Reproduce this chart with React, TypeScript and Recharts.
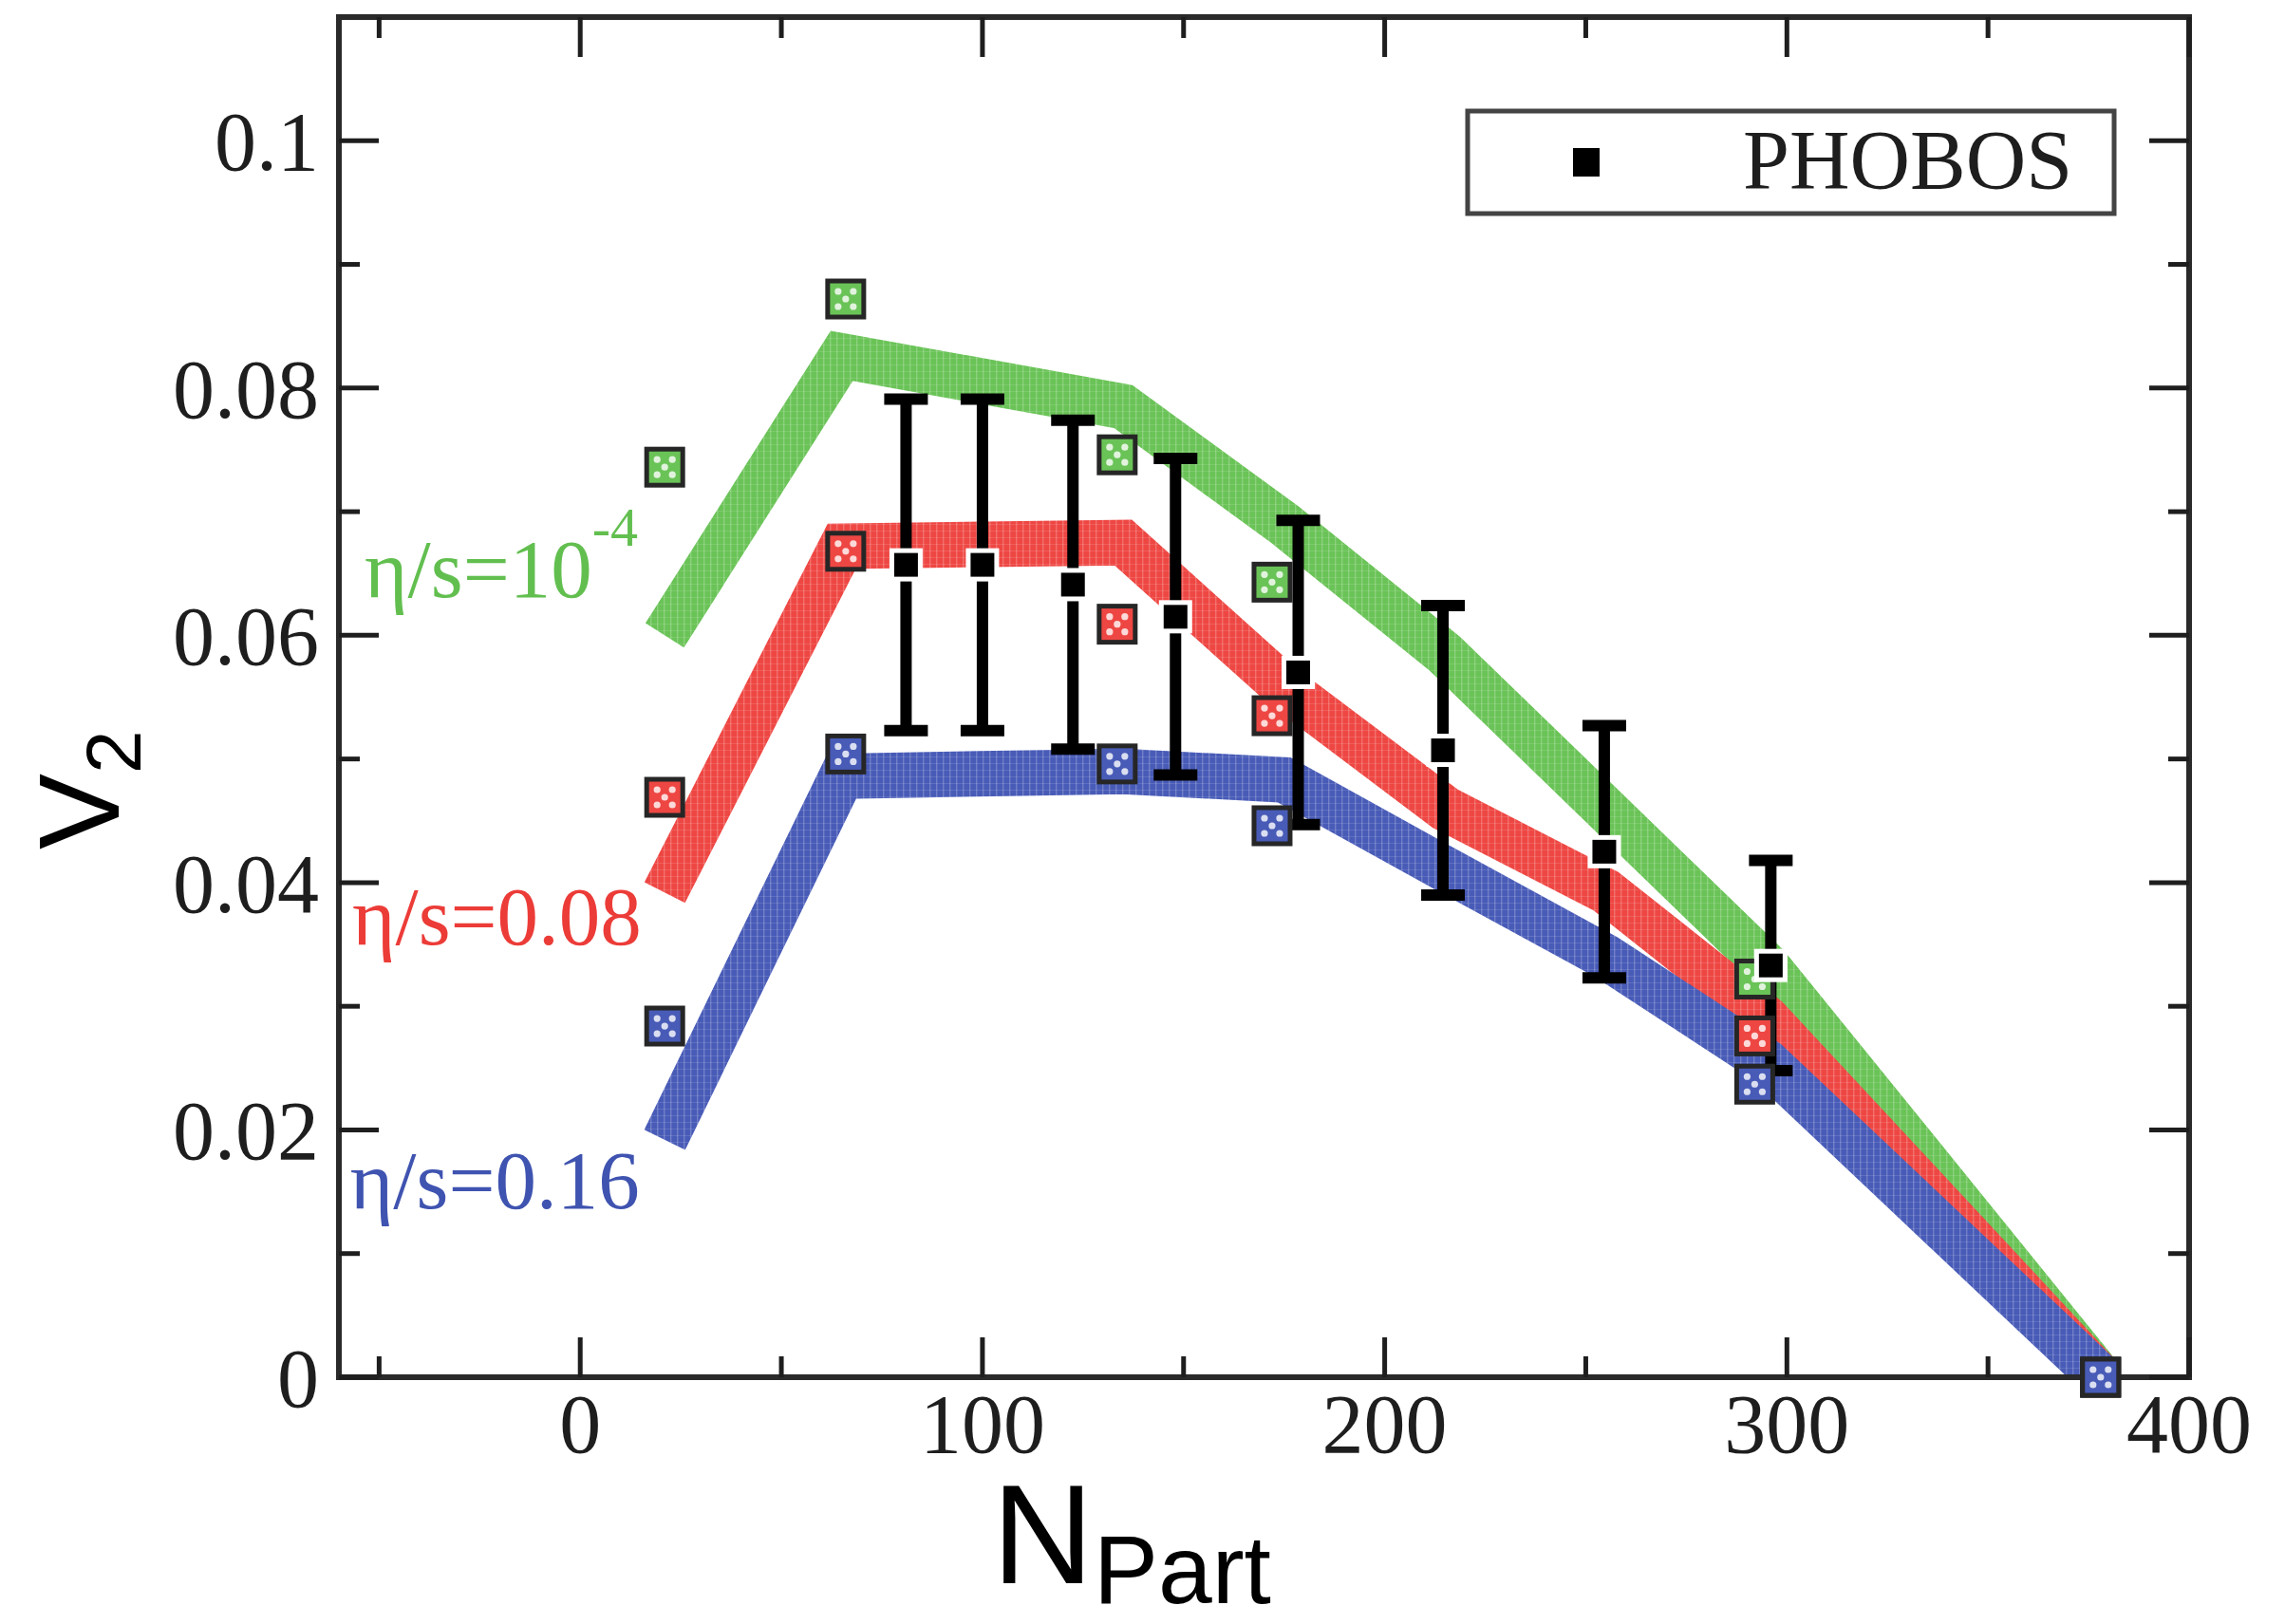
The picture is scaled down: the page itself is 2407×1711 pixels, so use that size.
import React from 'react';
import { ComposedChart, Line, Scatter, XAxis, YAxis, ErrorBar } from 'recharts';

const CHART_W = 2391;
const CHART_H = 1703;

// Hydro bands (centre lines): N_part vertices and v2 values
const bandNpart = [21, 65, 135, 175, 215, 255, 295, 378];
const bandEta1e4 = [0.06, 0.0826, 0.0785, 0.069, 0.0585, 0.0459, 0.0333, 0];
const bandEta008 = [0.0392, 0.0672, 0.0675, 0.0558, 0.046, 0.0393, 0.029, 0];
const bandEta016 = [0.0192, 0.0486, 0.049, 0.0483, 0.0411, 0.034, 0.0255, 0];

// Model points (squares)
const modelNpart = [21, 66, 133.5, 172, 292, 378];
const modelEta1e4 = [0.0736, 0.0872, 0.0746, 0.0643, 0.0322, 0];
const modelEta008 = [0.0469, 0.0668, 0.0609, 0.0535, 0.0276, 0];
const modelEta016 = [0.0284, 0.0504, 0.0496, 0.0446, 0.0237, 0];

// PHOBOS data
const phobosNpart = [81, 100, 122.5, 148, 178.5, 214.5, 254.6, 296];
const phobosV2 = [0.0657, 0.0657, 0.0641, 0.0615, 0.057, 0.0507, 0.0425, 0.0333];
const phobosErr = [0.0134, 0.0134, 0.0133, 0.0128, 0.0123, 0.0117, 0.0102, 0.0085];

// Axis ticks
const xTicks = [-50, 0, 50, 100, 150, 200, 250, 300, 350, 400];
const yTicks = [0, 0.01, 0.02, 0.03, 0.04, 0.05, 0.06, 0.07, 0.08, 0.09, 0.1];

// Curve labels (anchor = start of text baseline, in data coords)
const labelGreen = [{ x: -53.6, y: 0.0631 }];
const labelRed = [{ x: -56.7, y: 0.035 }];
const labelBlue = [{ x: -57.2, y: 0.01365 }];

const GREEN = '#6ac357';
const RED = '#ee4743';
const BLUE = '#485bb7';
const GREEN_TXT = '#62bf4f';
const RED_TXT = '#ec3c38';
const BLUE_TXT = '#3f53b0';

const SERIF = '"Liberation Serif", "Times New Roman", serif';
const SANS = '"Liberation Sans", Arial, sans-serif';
const INK = '#1e1e1e';

const pts = (xs: number[], ys: number[]) => xs.map((x, i) => ({ x, y: ys[i] }));
const phobosData = phobosNpart.map((x, i) => ({ x, y: phobosV2[i], err: phobosErr[i] }));

const isMajorX = (v: number) => Math.round(v) % 100 === 0;
const isMajorY = (v: number) => Math.round(v * 100) % 2 === 0;
const MAJ = 42;
const MIN = 22;
const TICK_W = 5;

const BottomTick = (p: any) => {
  const { x, y, payload } = p;
  const v = payload.value;
  const major = isMajorX(v);
  return (
    <g>
      <line x1={x} y1={y} x2={x} y2={y - (major ? MAJ : MIN)} stroke={INK} strokeWidth={TICK_W} />
      {major && (
        <text x={x} y={y + 79} textAnchor="middle" fontSize={88} fontFamily={SERIF} fill={INK}>
          {String(v)}
        </text>
      )}
    </g>
  );
};

const TopTick = (p: any) => {
  const { x, y, payload } = p;
  const major = isMajorX(payload.value);
  return <line x1={x} y1={y} x2={x} y2={y + (major ? MAJ : MIN)} stroke={INK} strokeWidth={TICK_W} />;
};

const LeftTick = (p: any) => {
  const { x, y, payload } = p;
  const v = payload.value;
  const major = isMajorY(v);
  return (
    <g>
      <line x1={x} y1={y} x2={x + (major ? MAJ : MIN)} y2={y} stroke={INK} strokeWidth={TICK_W} />
      {major && (
        <text x={x - 21} y={y + 31} textAnchor="end" fontSize={88} fontFamily={SERIF} fill={INK}>
          {v === 0 ? '0' : String(v)}
        </text>
      )}
    </g>
  );
};

const RightTick = (p: any) => {
  const { x, y, payload } = p;
  const major = isMajorY(payload.value);
  return <line x1={x} y1={y} x2={x - (major ? MAJ : MIN)} y2={y} stroke={INK} strokeWidth={TICK_W} />;
};

const modelSquare = (color: string) => (p: any) => {
  const { cx, cy } = p;
  const s = 38;
  const dots = [
    [-8, -8],
    [8, -8],
    [-8, 8],
    [8, 8],
    [0, 0],
  ];
  return (
    <g>
      <rect x={cx - s / 2} y={cy - s / 2} width={s} height={s} fill={color} stroke="#262626" strokeWidth={5} />
      {dots.map(([dx, dy], i) => (
        <circle key={i} cx={cx + dx} cy={cy + dy} r={3.6} fill="#fff" opacity={0.8} />
      ))}
    </g>
  );
};

const phobosShape = (p: any) => {
  const { cx, cy } = p;
  const s = 30;
  return <rect x={cx - s / 2} y={cy - s / 2} width={s} height={s} fill="#000" stroke="#fff" strokeWidth={5} />;
};

const labelShape = (color: string, main: string, sup?: string) => (p: any) => {
  const { cx, cy } = p;
  return (
    <text x={cx} y={cy} fontSize={87} fontFamily={SERIF} fill={color}>
      {main}
      {sup && (
        <tspan fontSize={58} dy={-54}>
          {sup}
        </tspan>
      )}
    </text>
  );
};

const axisLineStyle = { stroke: '#2a2a2a', strokeWidth: 6, strokeLinecap: 'square' as const };

const bandProps = {
  type: 'linear' as const,
  dataKey: 'y',
  xAxisId: 'main',
  yAxisId: 'main',
  dot: false,
  activeDot: false,
  strokeWidth: 48,
  strokeLinejoin: 'miter' as const,
  strokeLinecap: 'butt' as const,
  isAnimationActive: false,
};

const PatternDef = ({ id, color }: { id: string; color: string }) => (
  <pattern id={id} patternUnits="userSpaceOnUse" width={7} height={7}>
    <rect width={7} height={7} fill={color} />
    <rect x={5} y={0} width={1.4} height={7} fill="#fff" opacity={0.22} />
    <rect x={0} y={5} width={7} height={1} fill="#fff" opacity={0.12} />
  </pattern>
);

export default function App() {
  return (
    <div style={{ width: CHART_W, height: CHART_H, background: '#fff' }}>
      <style>{'html,body{overflow:hidden;background:#fff;}'}</style>
      <ComposedChart
        width={CHART_W}
        height={CHART_H}
        margin={{ top: 9, right: 92, bottom: 60, left: 49 }}
      >
        <defs>
          <PatternDef id="pat-green" color={GREEN} />
          <PatternDef id="pat-red" color={RED} />
          <PatternDef id="pat-blue" color={BLUE} />
        </defs>

        <Line {...bandProps} data={pts(bandNpart, bandEta1e4)} stroke="url(#pat-green)" name="eta1e4" />
        <Line {...bandProps} data={pts(bandNpart, bandEta008)} stroke="url(#pat-red)" name="eta008" />
        <Line {...bandProps} data={pts(bandNpart, bandEta016)} stroke="url(#pat-blue)" name="eta016" />

        <XAxis
          xAxisId="main"
          dataKey="x"
          type="number"
          domain={[-60, 400]}
          ticks={xTicks}
          interval={0}
          allowDataOverflow
          height={200}
          tickSize={0}
          tickMargin={0}
          tickLine={false}
          tick={(p: any) => <BottomTick {...p} />}
          axisLine={axisLineStyle}
        />
        <XAxis
          xAxisId="top"
          orientation="top"
          dataKey="x"
          type="number"
          domain={[-60, 400]}
          ticks={xTicks}
          interval={0}
          height={1}
          tickSize={0}
          tickMargin={0}
          tickLine={false}
          tick={(p: any) => <TopTick {...p} />}
          axisLine={axisLineStyle}
        />
        <YAxis
          yAxisId="main"
          dataKey="y"
          type="number"
          domain={[0, 0.11]}
          ticks={yTicks}
          interval={0}
          allowDataOverflow
          width={300}
          tickSize={0}
          tickMargin={0}
          tickLine={false}
          tick={(p: any) => <LeftTick {...p} />}
          axisLine={axisLineStyle}
        />
        <YAxis
          yAxisId="right"
          orientation="right"
          dataKey="y"
          type="number"
          domain={[0, 0.11]}
          ticks={yTicks}
          interval={0}
          width={1}
          tickSize={0}
          tickMargin={0}
          tickLine={false}
          tick={(p: any) => <RightTick {...p} />}
          axisLine={axisLineStyle}
        />

        <Scatter xAxisId="top" yAxisId="right" dataKey="y" data={pts(modelNpart, modelEta1e4)} shape={modelSquare(GREEN)} isAnimationActive={false} />
        <Scatter xAxisId="top" yAxisId="right" dataKey="y" data={pts(modelNpart, modelEta008)} shape={modelSquare(RED)} isAnimationActive={false} />
        <Scatter xAxisId="top" yAxisId="right" dataKey="y" data={pts(modelNpart, modelEta016)} shape={modelSquare(BLUE)} isAnimationActive={false} />

        <Scatter xAxisId="top" yAxisId="right" dataKey="y" data={phobosData} shape={phobosShape} isAnimationActive={false}>
          <ErrorBar dataKey="err" direction="y" width={23} strokeWidth={12} stroke="#000" />
        </Scatter>

        <Scatter xAxisId="top" yAxisId="right" dataKey="y" data={labelGreen} shape={labelShape(GREEN_TXT, 'η/s=10', '-4')} isAnimationActive={false} />
        <Scatter xAxisId="top" yAxisId="right" dataKey="y" data={labelRed} shape={labelShape(RED_TXT, 'η/s=0.08')} isAnimationActive={false} />
        <Scatter xAxisId="top" yAxisId="right" dataKey="y" data={labelBlue} shape={labelShape(BLUE_TXT, 'η/s=0.16')} isAnimationActive={false} />

        <g>
          {/* legend */}
          <rect x={1538} y={109} width={681} height={108} fill="#fff" stroke="#444" strokeWidth={5} />
          <rect x={1649} y={148} width={28} height={30} fill="#000" />
          <text x={1828} y={190} fontSize={88} fontFamily={SERIF} fill={INK}>
            PHOBOS
          </text>
          {/* axis titles */}
          <text x={1037} y={1660} fontSize={148} fontFamily={SANS} fill="#000">
            N
            <tspan fontSize={102} dy={21}>
              Part
            </tspan>
          </text>
          <text transform="translate(117, 887) rotate(-90)" fontSize={120} fontFamily={SANS} fill="#000">
            V
            <tspan fontSize={82} dy={23}>
              2
            </tspan>
          </text>
        </g>
      </ComposedChart>
    </div>
  );
}
